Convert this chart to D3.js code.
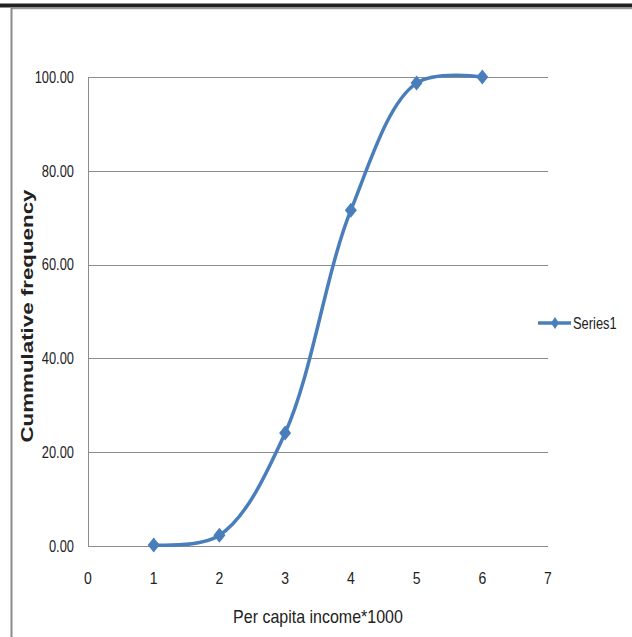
<!DOCTYPE html>
<html>
<head>
<meta charset="utf-8">
<script src="https://cdn.jsdelivr.net/npm/d3@7/dist/d3.min.js"></script>
<style>
  html, body { margin: 0; padding: 0; background: #fff; }
  svg { display: block; }
  text { font-family: "Liberation Sans", Arial, sans-serif; fill: #222; }
</style>
</head>
<body>
<svg id="chart" width="632" height="637"></svg>
<script>
// Cumulative frequency by per-capita income class
const incomeClasses = [1, 2, 3, 4, 5, 6];
const cumulativeFreq = [0.2, 2.3, 24.1, 71.6, 98.7, 100.0];
const xTicks = [0, 1, 2, 3, 4, 5, 6, 7];
const yTicks = [0, 20, 40, 60, 80, 100];
const seriesName = "Series1";
const xTitle = "Per capita income*1000";
const yTitle = "Cummulative frequency";

const svg = d3.select("#chart");
const blue = "#4a7ebb";
const grid = "#8c8c8c";

// outer frame
svg.append("rect").attr("x", 0).attr("y", 3.5).attr("width", 632).attr("height", 4).attr("fill", "#222");
svg.append("line").attr("x1", 11).attr("x2", 632).attr("y1", 8.5).attr("y2", 8.5)
  .attr("stroke", "#9a9a9a").attr("stroke-width", 1.5);
svg.append("line").attr("x1", 11.5).attr("x2", 11.5).attr("y1", 8).attr("y2", 637)
  .attr("stroke", "#8a8a8a").attr("stroke-width", 2);

const x = d3.scaleLinear().domain([0, 7]).range([88, 548]);
const y = d3.scaleLinear().domain([0, 100]).range([546, 77]);

// horizontal gridlines
svg.append("g").selectAll("line").data(yTicks).join("line")
  .attr("x1", x(0)).attr("x2", x(7))
  .attr("y1", d => Math.round(y(d)) + 0.5).attr("y2", d => Math.round(y(d)) + 0.5)
  .attr("stroke", grid).attr("stroke-width", 1);

// y axis line
svg.append("line").attr("x1", x(0) + 0.5).attr("x2", x(0) + 0.5)
  .attr("y1", y(100)).attr("y2", y(0)).attr("stroke", grid);

// y tick labels
svg.append("g").selectAll("text").data(yTicks).join("text")
  .attr("x", 74).attr("y", d => y(d) + 5)
  .attr("text-anchor", "end").attr("font-size", 14)
  .attr("transform", d => `translate(74,${y(d)}) scale(0.92,1.15) translate(-74,${-y(d)})`)
  .text(d => d3.format(".2f")(d));

// x tick labels
svg.append("g").selectAll("text").data(xTicks).join("text")
  .attr("x", d => x(d)).attr("y", 584)
  .attr("text-anchor", "middle").attr("font-size", 14)
  .attr("transform", `translate(0,584) scale(1,1.15) translate(0,-584)`)
  .text(d => d);

// axis titles
svg.append("text").attr("x", 318).attr("y", 623)
  .attr("text-anchor", "middle").attr("font-size", 16)
  .attr("transform", `translate(0,623) scale(1,1.15) translate(0,-623)`)
  .text(xTitle);

svg.append("text")
  .attr("transform", "translate(33,316) rotate(-90)")
  .attr("text-anchor", "middle").attr("font-size", 17).attr("font-weight", "bold")
  .attr("textLength", 253).attr("lengthAdjust", "spacingAndGlyphs")
  .text(yTitle);

// smoothed series line
const pts = incomeClasses.map((v, i) => [v, cumulativeFreq[i]]);
const line = d3.line().x(d => x(d[0])).y(d => y(d[1])).curve(d3.curveCatmullRom.alpha(0.5));
svg.append("path").datum(pts).attr("d", line)
  .attr("fill", "none").attr("stroke", blue).attr("stroke-width", 3.5)
  .attr("stroke-linejoin", "round").attr("stroke-linecap", "round");

// diamond markers
const diamond = (cx, cy, w, h) => `M${cx},${cy - h}L${cx + w},${cy}L${cx},${cy + h}L${cx - w},${cy}Z`;
svg.append("g").selectAll("path").data(pts).join("path")
  .attr("d", d => diamond(x(d[0]), y(d[1]), 6, 7.5))
  .attr("fill", blue);

// legend
svg.append("line").attr("x1", 538).attr("x2", 571).attr("y1", 323).attr("y2", 323)
  .attr("stroke", blue).attr("stroke-width", 3.5);
svg.append("path").attr("d", diamond(555, 323, 4, 6)).attr("fill", blue);
svg.append("text").attr("x", 573).attr("y", 328).attr("font-size", 14)
  .attr("transform", `translate(573,323) scale(0.92,1.15) translate(-573,-323)`)
  .text(seriesName);
</script>
</body>
</html>
